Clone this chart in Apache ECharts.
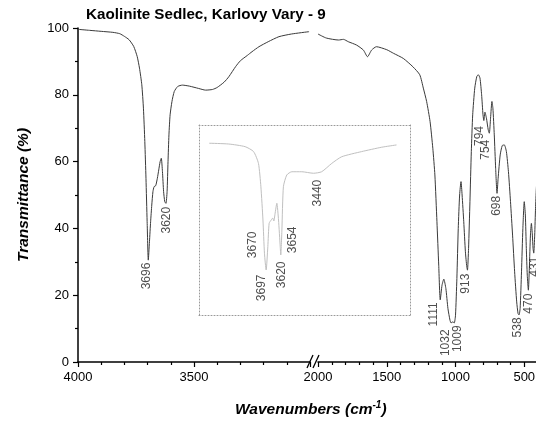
<!DOCTYPE html>
<html>
<head>
<meta charset="utf-8">
<script src="https://cdn.jsdelivr.net/npm/echarts@6/dist/echarts.min.js"></script>
<style>
  html, body { margin: 0; padding: 0; background: #fff; }
  #chart { width: 536px; height: 423px; }
</style>
</head>
<body>
<div id="chart"></div>
<script>
// main spectrum, high wavenumber part (left of the axis break)
const leftWave = [4000,3950,3900,3850,3820,3800,3780,3760,3745,3735,3725,3718,3712,3707,3702,3697,3692,3687,3682,3677,3672,3665,3658,3652,3646,3641,3636,3631,3626,3621,3616,3612,3608,3603,3595,3585,3570,3550,3520,3480,3450,3420,3400,3370,3350,3320,3300,3270,3250,3220,3180,3134,3080,3004];
const leftT = [99.6,99.3,99.0,98.7,98.3,97.5,96.5,94.5,91.5,88,83,76,66,55,42,30.5,36,42,47,51,52.5,52.8,55,57.5,60,61,57,51,48,47.5,51,60,68,74,78,81,82.5,82.9,82.6,81.9,81.4,81.6,82.2,83.8,85.4,88.5,90.2,91.8,92.9,94.4,95.9,97.4,98.2,98.9];

// main spectrum, low wavenumber part (right of the break)
const rightWave = [2000,1940,1850,1815,1780,1720,1670,1640,1610,1575,1500,1450,1380,1310,1260,1234,1210,1185,1165,1150,1135,1122,1111,1098,1085,1070,1055,1040,1032,1020,1009,1000,990,980,970,960,952,940,928,918,913,905,895,885,875,860,845,834,822,810,800,794,786,775,762,754,745,735,728,718,708,698,690,675,660,645,630,615,600,585,570,555,545,538,530,520,510,500,492,485,478,470,463,455,448,441,436,431,424,418,412,405];
const rightT = [98.2,97.0,96.4,96.6,95.9,94.9,93.4,91.4,93.4,94.4,93.5,92.4,90.9,88.4,86,82,78,72,64,56,42,29,18.6,23,24.8,22,16,12.5,11.7,12,11.7,14,25,40,50,54,50,42,33,28.5,27.5,34,48,63,74,82,85.5,86,85,80,74,72.3,74.8,73,69.5,68.5,73,78,76,68,58,50.5,55,62,64.8,65,63,57,48,38,27,18,14.5,14.1,16,27,40,48,44,34,26,21.5,28,38,41.5,38,34,32.6,38,46,52,56];

// inset (OH stretching region), own vertical scale
const insetWave = [4000,3897,3809,3764,3738,3725,3714,3706,3697,3688,3681,3670,3662,3656,3650,3640,3631,3622,3619,3613,3605,3587,3560,3507,3445,3401,3347,3294,3188,3081,3002];
const insetV = [90.4,90,88.6,86,79.8,67.5,50,32.5,23.7,36,48.3,50,51,49.5,53,58.8,50,36,31.6,44.7,67.5,73.7,75.4,75.4,74.6,75.4,79.8,83.3,86,88.3,89.5];

// peak labels
const leftPeakText = ['3696', '3620'];
const leftPeakWave = [3697, 3621];
const leftPeakT = [30.5, 47.5];

const rightPeakText = ['1111', '1032', '1009', '913', '794', '754', '698', '538', '470', '431'];
const rightPeakWave = [1111, 1032, 1009, 913, 794, 754, 698, 538, 470, 431];
const rightPeakT = [18.6, 11.7, 11.7, 27.5, 72.3, 68.5, 50.5, 14.1, 21.5, 32.6];

const insetPeakText = ['3697', '3670', '3620', '3654', '3440'];
const insetPeakWave = [3697, 3670, 3619, 3654, 3445];
const insetPeakV = [23.7, 50, 31.6, 50, 74.6];

const yTicks = [0, 20, 40, 60, 80, 100];

// label placement (pixel shift from the peak to the top of the rotated text)
const leftShift = [[-1, 3], [1, 4]];
const rightShift = [[-6, 3], [-5, 7], [4, 3], [-1, 4], [-4, 6], [-3, 7], [0, 3], [-1, 3], [1, 4], [1, 4]];
const insetShift = [[-4, 5], [-18, 12], [1, 7], [19, 7], [5, 7]];

const FONT = '"Liberation Sans", Arial, sans-serif';
const zip = (a, b) => a.map((v, i) => [v, b[i]]);

function labelSeries(idx, ws, ts, texts, shifts) {
  return {
    type: 'scatter',
    xAxisIndex: idx,
    yAxisIndex: idx,
    symbolSize: 1,
    silent: true,
    z: 5,
    itemStyle: { color: 'rgba(0,0,0,0)' },
    data: ws.map((w, i) => ({
      value: [w, ts[i]],
      label: {
        show: true,
        formatter: texts[i],
        position: shifts[i],
        rotate: 90,
        align: 'right',
        verticalAlign: 'middle',
        fontFamily: FONT,
        fontSize: 12,
        color: '#222'
      }
    }))
  };
}

const axisBlack = { show: true, onZero: false, lineStyle: { color: '#000', width: 1.5 } };
const dotted = { show: true, onZero: false, lineStyle: { color: '#999', width: 1, type: [1, 2] } };
const tickLabel = { fontFamily: FONT, fontSize: 13, color: '#000', formatter: v => String(v) };

const chart = echarts.init(document.getElementById('chart'), null, { renderer: 'canvas' });

chart.setOption({
  animation: false,
  backgroundColor: '#fff',
  title: [
    {
      text: 'Kaolinite Sedlec, Karlovy Vary - 9',
      left: 81, top: 2,
      textStyle: { fontFamily: FONT, fontSize: 15.2, fontWeight: 'bold', color: '#000' }
    },
    {
      text: 'Wavenumbers (cm{sup|-1})',
      left: 230, top: 395,
      textStyle: {
        fontFamily: FONT, fontSize: 15.5, fontWeight: 'bold', fontStyle: 'italic', color: '#000',
        rich: { sup: { fontFamily: FONT, fontSize: 10, fontWeight: 'bold', fontStyle: 'italic', color: '#000', padding: [0, 0, 9, 0] } }
      }
    }
  ],
  grid: [
    { left: 78, top: 28, width: 232, height: 334, outerBoundsMode: 'none' },
    { left: 318, top: 28, width: 275, height: 334, outerBoundsMode: 'none' },
    { left: 199, top: 125, width: 211, height: 190, outerBoundsMode: 'none' }
  ],
  xAxis: [
    {
      gridIndex: 0, type: 'value', min: 3000, max: 4000, interval: 500, inverse: true,
      axisLine: axisBlack,
      axisTick: { show: true, length: 5, lineStyle: { color: '#000', width: 1.2 } },
      minorTick: { show: true, splitNumber: 5, length: 3, lineStyle: { color: '#000', width: 1.2 } },
      axisLabel: Object.assign({ margin: 9, showMinLabel: false }, tickLabel),
      splitLine: { show: false }
    },
    {
      gridIndex: 1, type: 'value', min: 0, max: 2000, interval: 500, inverse: true,
      axisLine: axisBlack,
      axisTick: { show: true, length: 5, lineStyle: { color: '#000', width: 1.2 } },
      minorTick: { show: true, splitNumber: 5, length: 3, lineStyle: { color: '#000', width: 1.2 } },
      axisLabel: Object.assign({ margin: 9 }, tickLabel),
      splitLine: { show: false }
    },
    {
      gridIndex: 2, type: 'value', min: 2930, max: 4055, inverse: true, position: 'bottom',
      axisLine: dotted, axisTick: { show: false }, axisLabel: { show: false }, splitLine: { show: false }
    },
    {
      gridIndex: 2, type: 'value', min: 2930, max: 4055, inverse: true, position: 'top',
      axisLine: dotted, axisTick: { show: false }, axisLabel: { show: false }, splitLine: { show: false }
    }
  ],
  yAxis: [
    {
      gridIndex: 0, type: 'value', min: yTicks[0], max: yTicks[yTicks.length - 1], interval: 20,
      axisLine: axisBlack,
      axisTick: { show: true, length: 5, lineStyle: { color: '#000', width: 1.2 } },
      minorTick: { show: true, splitNumber: 2, length: 3, lineStyle: { color: '#000', width: 1.2 } },
      axisLabel: Object.assign({ margin: 9 }, tickLabel),
      splitLine: { show: false },
      name: 'Transmittance (%)',
      nameLocation: 'middle',
      nameGap: 46,
      nameTextStyle: { fontFamily: FONT, fontSize: 15.5, fontWeight: 'bold', fontStyle: 'italic', color: '#000' }
    },
    { gridIndex: 1, type: 'value', min: 0, max: 100, show: false },
    {
      gridIndex: 2, type: 'value', min: 0, max: 100, position: 'left',
      axisLine: dotted, axisTick: { show: false }, axisLabel: { show: false }, splitLine: { show: false }
    },
    {
      gridIndex: 2, type: 'value', min: 0, max: 100, position: 'right',
      axisLine: dotted, axisTick: { show: false }, axisLabel: { show: false }, splitLine: { show: false }
    }
  ],
  graphic: [
    { type: 'line', shape: { x1: 307, y1: 368, x2: 313, y2: 355 }, style: { stroke: '#000', lineWidth: 1.3 }, z: 10 },
    { type: 'line', shape: { x1: 313, y1: 368, x2: 319, y2: 355 }, style: { stroke: '#000', lineWidth: 1.3 }, z: 10 }
  ],
  series: [
    {
      type: 'line', xAxisIndex: 0, yAxisIndex: 0, data: zip(leftWave, leftT),
      showSymbol: false, smooth: 0.2, lineStyle: { color: '#3a3a3a', width: 1 }, silent: true
    },
    {
      type: 'line', xAxisIndex: 1, yAxisIndex: 1, data: zip(rightWave, rightT),
      showSymbol: false, smooth: 0.2, lineStyle: { color: '#3a3a3a', width: 1 }, silent: true
    },
    {
      type: 'line', xAxisIndex: 2, yAxisIndex: 2, data: zip(insetWave, insetV),
      showSymbol: false, smooth: 0.2, lineStyle: { color: '#c0c0c0', width: 1 }, silent: true
    },
    labelSeries(0, leftPeakWave, leftPeakT, leftPeakText, leftShift),
    labelSeries(1, rightPeakWave, rightPeakT, rightPeakText, rightShift),
    labelSeries(2, insetPeakWave, insetPeakV, insetPeakText, insetShift)
  ]
});

window.addEventListener('resize', () => {
  chart.resize();
});
</script>
</body>
</html>
